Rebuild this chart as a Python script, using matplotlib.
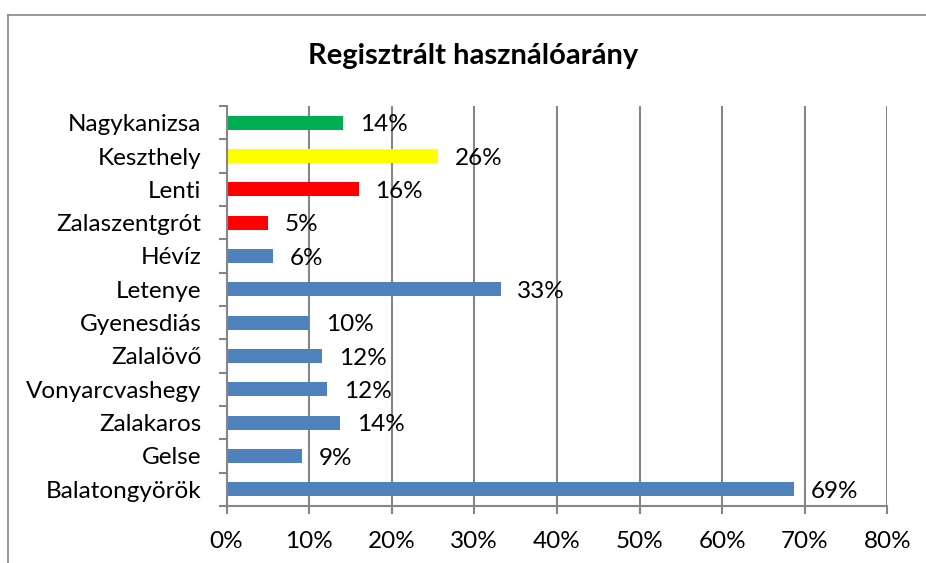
import matplotlib
matplotlib.use("Agg")
import matplotlib.pyplot as plt
from matplotlib.lines import Line2D
from matplotlib.ticker import FixedLocator, PercentFormatter

plt.rcParams['font.family'] = ['Lato', 'DejaVu Sans']

title = "Regisztrált használóarány"
categories = ["Balatongyörök", "Gelse", "Zalakaros", "Vonyarcvashegy", "Zalalövő",
              "Gyenesdiás", "Letenye", "Hévíz", "Zalaszentgrót", "Lenti",
              "Keszthely", "Nagykanizsa"]
values = [68.7, 9.2, 13.8, 12.2, 11.6, 10.0, 33.2, 5.6, 5.0, 16.0, 25.6, 14.1]
bar_colors = ["#4F81BD"] * 8 + ["#FF0000", "#FF0000", "#FFFF00", "#00B050"]
x_ticks = [0, 10, 20, 30, 40, 50, 60, 70, 80]

W, H = 926, 563
fig = plt.figure(figsize=(W / 100, H / 100), dpi=100)
ax = fig.add_axes([226.5 / W, 1 - 506 / H, (887.3 - 226.5) / W, 400 / H])

grey = "#868686"
fs = 17.5
ypos = list(range(len(categories)))
ax.barh(ypos, values, height=0.42, color=bar_colors, zorder=3)

ax.set_xlim(0, 80)
ax.set_ylim(-0.5, len(categories) - 0.5)
ax.xaxis.set_major_locator(FixedLocator(x_ticks))
ax.xaxis.set_major_formatter(PercentFormatter(decimals=0))
ax.grid(axis='x', color=grey, linewidth=1.5, zorder=1)
ax.set_yticks(ypos)
ax.set_yticklabels(categories)
ax.set_yticks([i - 0.5 for i in range(len(categories) + 1)], minor=True)
ax.tick_params(axis='y', which='major', length=0, pad=18, labelsize=fs)
ax.tick_params(axis='y', which='minor', length=6, width=1.5, color=grey, direction='out')
ax.tick_params(axis='x', which='major', length=6, width=1.5, color=grey, direction='out',
               pad=12, labelsize=fs)
for s in ['top', 'right']:
    ax.spines[s].set_visible(False)
for s in ['left', 'bottom']:
    ax.spines[s].set_color(grey)
    ax.spines[s].set_linewidth(1.5)
    ax.spines[s].set_zorder(4)

for y, v in zip(ypos, values):
    ax.annotate(f"{round(v)}%", xy=(v, y), xytext=(12, -1.5), textcoords='offset points',
                va='center', ha='left', fontsize=fs, zorder=5)

fig.text(473 / W, 1 - 64 / H, title, ha='center', va='baseline',
         fontsize=21, fontweight='bold')

# chart frame (top and left edges visible)
fig.add_artist(Line2D([7.5 / W, 1.0], [1 - 14.5 / H, 1 - 14.5 / H], color=grey,
                      linewidth=1.2, transform=fig.transFigure))
fig.add_artist(Line2D([7.5 / W, 7.5 / W], [1 - 14.5 / H, 0], color=grey,
                      linewidth=1.2, transform=fig.transFigure))

fig.savefig("out.png", dpi=100)
